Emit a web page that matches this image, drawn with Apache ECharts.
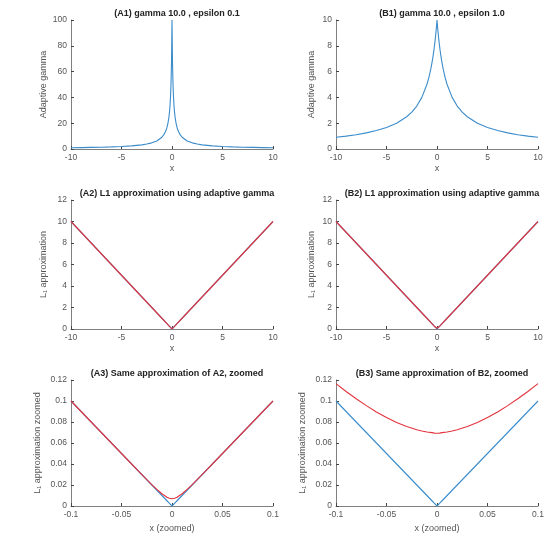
<!DOCTYPE html>
<html>
<head>
<meta charset="utf-8">
<script src="https://cdn.jsdelivr.net/npm/echarts@6/dist/echarts.min.js"></script>
<style>
  html, body { margin: 0; padding: 0; background: #fff; }
  #chart { width: 551px; height: 534px; }
</style>
</head>
<body>
<div id="chart"></div>
<script>
// x samples for the wide plots (denser near 0, where the peak is)
var xWide = [-10, -9, -8, -7, -6, -5, -4, -3, -2.5, -2, -1.5, -1, -0.8, -0.6, -0.5, -0.4, -0.3, -0.25, -0.2, -0.15, -0.1, -0.05, 0,
             0.05, 0.1, 0.15, 0.2, 0.25, 0.3, 0.4, 0.5, 0.6, 0.8, 1, 1.5, 2, 2.5, 3, 4, 5, 6, 7, 8, 9, 10];
// adaptive gamma, epsilon 0.1
var gammaA = [0.99, 1.1, 1.24, 1.41, 1.64, 1.96, 2.44, 3.23, 3.85, 4.76, 6.25, 9.09, 11.1, 14.3, 16.7, 20, 25, 28.6, 33.3, 40, 50, 66.7, 100,
              66.7, 50, 40, 33.3, 28.6, 25, 20, 16.7, 14.3, 11.1, 9.09, 6.25, 4.76, 3.85, 3.23, 2.44, 1.96, 1.64, 1.41, 1.24, 1.1, 0.99];
// adaptive gamma, epsilon 1.0
var gammaB = [0.91, 1.0, 1.11, 1.25, 1.43, 1.67, 2.0, 2.5, 2.86, 3.33, 4.0, 5.0, 5.56, 6.25, 6.67, 7.14, 7.69, 8.0, 8.33, 8.7, 9.09, 9.52, 10,
              9.52, 9.09, 8.7, 8.33, 8.0, 7.69, 7.14, 6.67, 6.25, 5.56, 5.0, 4.0, 3.33, 2.86, 2.5, 2.0, 1.67, 1.43, 1.25, 1.11, 1.0, 0.91];

// L1 plots
var xL1 = [-10, -5, -1, -0.5, -0.2, -0.1, 0, 0.1, 0.2, 0.5, 1, 5, 10];
var absL1 = [10, 5, 1, 0.5, 0.2, 0.1, 0, 0.1, 0.2, 0.5, 1, 5, 10];
var approxA = [10, 5, 1, 0.5, 0.2, 0.1, 0.007, 0.1, 0.2, 0.5, 1, 5, 10];
var approxB = [10, 5, 1, 0.5, 0.204, 0.117, 0.069, 0.117, 0.204, 0.5, 1, 5, 10];

// zoomed plots
var xZoom = [-0.1, -0.09, -0.08, -0.07, -0.06, -0.05, -0.04, -0.03, -0.02, -0.015, -0.01, -0.005, -0.0025, 0,
             0.0025, 0.005, 0.01, 0.015, 0.02, 0.03, 0.04, 0.05, 0.06, 0.07, 0.08, 0.09, 0.1];
var absZoom = [0.1, 0.09, 0.08, 0.07, 0.06, 0.05, 0.04, 0.03, 0.02, 0.015, 0.01, 0.005, 0.0025, 0,
               0.0025, 0.005, 0.01, 0.015, 0.02, 0.03, 0.04, 0.05, 0.06, 0.07, 0.08, 0.09, 0.1];
var zoomA = [0.1, 0.09, 0.08, 0.07, 0.06, 0.05, 0.04, 0.0301, 0.0204, 0.0158, 0.0117, 0.0084, 0.0074, 0.0069,
             0.0074, 0.0084, 0.0117, 0.0158, 0.0204, 0.0301, 0.04, 0.05, 0.06, 0.07, 0.08, 0.09, 0.1];
var zoomB = [0.1165, 0.1091, 0.1021, 0.0956, 0.0896, 0.0843, 0.0796, 0.0757, 0.0727, 0.0715, 0.0705, 0.0699, 0.0694, 0.0693,
             0.0694, 0.0699, 0.0705, 0.0715, 0.0727, 0.0757, 0.0796, 0.0843, 0.0896, 0.0956, 0.1021, 0.1091, 0.1165];

var titles = ["(A1) gamma 10.0 , epsilon 0.1", "(B1) gamma 10.0 , epsilon 1.0",
              "(A2) L1 approximation using adaptive gamma", "(B2) L1 approximation using adaptive gamma",
              "(A3) Same approximation of A2, zoomed", "(B3) Same approximation of B2, zoomed"];

var blue = "#3b8ccb";
var red = "#e2333d";
var axisCol = "#808080";
var textCol = "#555";

var lefts = [71, 336];
var tops = [20, 200, 380];
var W = 202, H = 129;

function pairs(xs, ys) {
    return xs.map(function (x, i) { return [x, ys[i]]; });
}

var grids = [], xAxes = [], yAxes = [], titleOpts = [], series = [];
// [xmin, xmax, xint, ymin, ymax, yint, xname, yname, ynameGap, xnameGap]
var axesCfg = [
    [-10, 10, 5, 0, 100, 20, "x", "Adaptive gamma", 23, 15],
    [-10, 10, 5, 0, 10, 2, "x", "Adaptive gamma", 20, 15],
    [-10, 10, 5, 0, 12, 2, "x", "L\u2081 approximation", 23, 15],
    [-10, 10, 5, 0, 12, 2, "x", "L\u2081 approximation", 20, 15],
    [-0.1, 0.1, 0.05, 0, 0.12, 0.02, "x (zoomed)", "L\u2081 approximation zoomed", 29, 18],
    [-0.1, 0.1, 0.05, 0, 0.12, 0.02, "x (zoomed)", "L\u2081 approximation zoomed", 29, 18]
];

for (var i = 0; i < 6; i++) {
    var col = i % 2, row = Math.floor(i / 2);
    var c = axesCfg[i];
    grids.push({ left: lefts[col], top: tops[row], width: W, height: H });
    titleOpts.push({
        text: titles[i],
        left: lefts[col] + W / 2,
        top: tops[row] - 16,
        textAlign: "center",
        textStyle: { fontSize: 9, fontWeight: "bold", color: "#222", fontFamily: "Liberation Sans" }
    });
    xAxes.push({
        type: "value", gridIndex: i, min: c[0], max: c[1], interval: c[2],
        name: c[6], nameLocation: "middle", nameGap: c[9],
        nameTextStyle: { fontSize: 9, color: textCol, fontFamily: "Liberation Sans" },
        axisLine: { onZero: false, lineStyle: { color: axisCol, width: 1 } },
        axisTick: { inside: true, length: 3, lineStyle: { color: "#444" } },
        axisLabel: { fontSize: 8.5, color: textCol, margin: 4, fontFamily: "Liberation Sans" },
        splitLine: { show: false }
    });
    yAxes.push({
        type: "value", gridIndex: i, min: c[3], max: c[4], interval: c[5],
        name: c[7], nameLocation: "middle", nameGap: c[8], nameRotate: 90,
        nameTextStyle: { fontSize: 9, color: textCol, fontFamily: "Liberation Sans" },
        axisLine: { show: true, onZero: false, lineStyle: { color: axisCol, width: 1 } },
        axisTick: { show: true, inside: true, length: 3, lineStyle: { color: "#444" } },
        axisLabel: { fontSize: 8.5, color: textCol, margin: 4, fontFamily: "Liberation Sans" },
        splitLine: { show: false }
    });
}

function line(idx, data, color) {
    return {
        type: "line", xAxisIndex: idx, yAxisIndex: idx, data: data,
        showSymbol: false, smooth: false, animation: false,
        lineStyle: { color: color, width: 1.1 }, itemStyle: { color: color }
    };
}

series.push(line(0, pairs(xWide, gammaA), blue));
series.push(line(1, pairs(xWide, gammaB), blue));
series.push(line(2, pairs(xL1, absL1), blue));
series.push(line(2, pairs(xL1, approxA), red));
series.push(line(3, pairs(xL1, absL1), blue));
series.push(line(3, pairs(xL1, approxB), red));
series.push(line(4, pairs(xZoom, absZoom), blue));
series.push(line(4, pairs(xZoom, zoomA), red));
series.push(line(5, pairs(xZoom, absZoom), blue));
series.push(line(5, pairs(xZoom, zoomB), red));

var chart = echarts.init(document.getElementById("chart"));
chart.setOption({
    animation: false,
    backgroundColor: "#fff",
    title: titleOpts,
    grid: grids,
    xAxis: xAxes,
    yAxis: yAxes,
    series: series
});
</script>
</body>
</html>
